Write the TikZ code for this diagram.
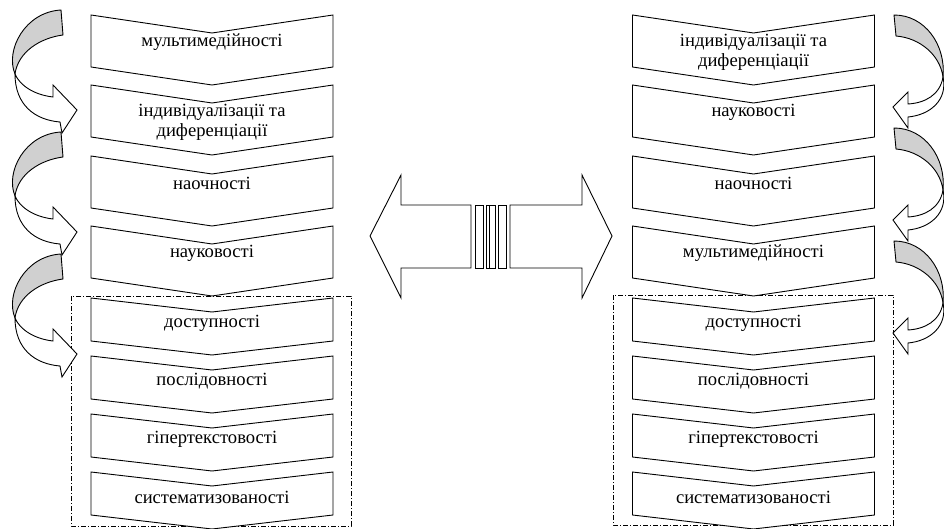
\documentclass[tikz,border=0pt]{standalone}
\usepackage{fontspec}
\setmainfont{Liberation Serif}

\definecolor{ribbongray}{RGB}{208,208,208}

\tikzset{
  chev/.style={draw=black, line width=0.9pt, fill=white, line join=miter},
  lbl/.style={font=\fontsize{18.6}{20}\selectfont, align=center, inner sep=0pt},
  groupbox/.style={draw=black, line width=0.9pt, dash pattern=on 5pt off 2pt on 1pt off 2pt},
  larrow/.pic={
    \draw[chev] (15,74) .. controls (20,86) and (35,95) .. (53,97) -- (53,85) -- (77,110)
      -- (62,133) -- (60,122) .. controls (35,120) and (15,105) .. (15,74) -- cycle;
    \draw[chev, fill=ribbongray] (61,10) -- (63,35) .. controls (40,38) and (18,52) .. (15,74)
      .. controls (5,50) and (25,12) .. (61,10) -- cycle;
  },
  rarrow/.pic={
    \draw[chev] (943,77) .. controls (940,95) and (925,103) .. (908,104) -- (908,92) -- (893,107)
      -- (908,128) -- (908,117) .. controls (930,115) and (948,100) .. (943,77) -- cycle;
    \draw[chev, fill=ribbongray] (894,15) -- (896,36) .. controls (920,38) and (940,55) .. (943,77)
      .. controls (946,45) and (925,15) .. (894,15) -- cycle;
  }
}

% x, top, height, depth of the notch
\newcommand{\chevbox}[4]{%
  \draw[chev] (#1,#2) -- ++(121,#4) -- ++(121,-#4) -- ++(0,#3) -- ++(-121,#4) -- ++(-121,-#4) -- cycle;}

\begin{document}
\begin{tikzpicture}[x=1pt,y=-1pt]
\useasboundingbox (0,0) rectangle (944,529);

\draw[groupbox] (71,296) rectangle (351,526);
\draw[groupbox] (613,295) rectangle (893,525);

\chevbox{91}{15}{52}{18}
\chevbox{91}{85}{52}{18}
\chevbox{91}{156}{52}{18}
\chevbox{91}{226}{52}{18}
\chevbox{91}{298}{43}{14}
\chevbox{91}{356}{43}{14}
\chevbox{91}{414}{43}{14}
\chevbox{91}{472}{43}{14}

\chevbox{632.5}{15}{52}{18}
\chevbox{632.5}{85}{52}{18}
\chevbox{632.5}{156}{52}{18}
\chevbox{632.5}{226}{52}{18}
\chevbox{632.5}{298}{43}{14}
\chevbox{632.5}{356}{43}{14}
\chevbox{632.5}{414}{43}{14}
\chevbox{632.5}{472}{43}{14}

\node[lbl] (lmult) at (212,42) {мультимедійності};
\node[lbl] (lind) at (212,122) {індивідуалізації та\\диференціації};
\node[lbl] (lnaoch) at (212,183) {наочності};
\node[lbl] (lnauk) at (212,253) {науковості};
\node[lbl] (ldost) at (212,323) {доступності};
\node[lbl] (lposl) at (212,381) {послідовності};
\node[lbl] (lhiper) at (212,439) {гіпертекстовості};
\node[lbl] (lsyst) at (212,497) {систематизованості};

\node[lbl] (rind) at (753.5,52) {індивідуалізації та\\диференціації};
\node[lbl] (rnauk) at (753.5,112) {науковості};
\node[lbl] (rnaoch) at (753.5,183) {наочності};
\node[lbl] (rmult) at (753.5,253) {мультимедійності};
\node[lbl] (rdost) at (753.5,323) {доступності};
\node[lbl] (rposl) at (753.5,381) {послідовності};
\node[lbl] (rhiper) at (753.5,439) {гіпертекстовості};
\node[lbl] (rsyst) at (753.5,497) {систематизованості};

\pic at (0,0) {larrow};
\pic at (0,122) {larrow};
\pic at (0,244) {larrow};

\pic at (0,0) {rarrow};
\pic at (0,113) {rarrow};
\pic at (0,226) {rarrow};

\draw[chev] (471,205) -- (401,205) -- (401,175) -- (370,236) -- (401,298) -- (401,268) -- (471,268) -- cycle;
\draw[chev] (510,205) -- (582,205) -- (582,175) -- (612,236) -- (582,298) -- (582,268) -- (510,268) -- cycle;
\draw[chev] (475,205) rectangle (483,268);
\draw[chev] (486,205) rectangle (492,268);
\draw[chev] (489,205) rectangle (495,268);
\draw[chev] (498,205) rectangle (506,268);
\end{tikzpicture}
\end{document}
